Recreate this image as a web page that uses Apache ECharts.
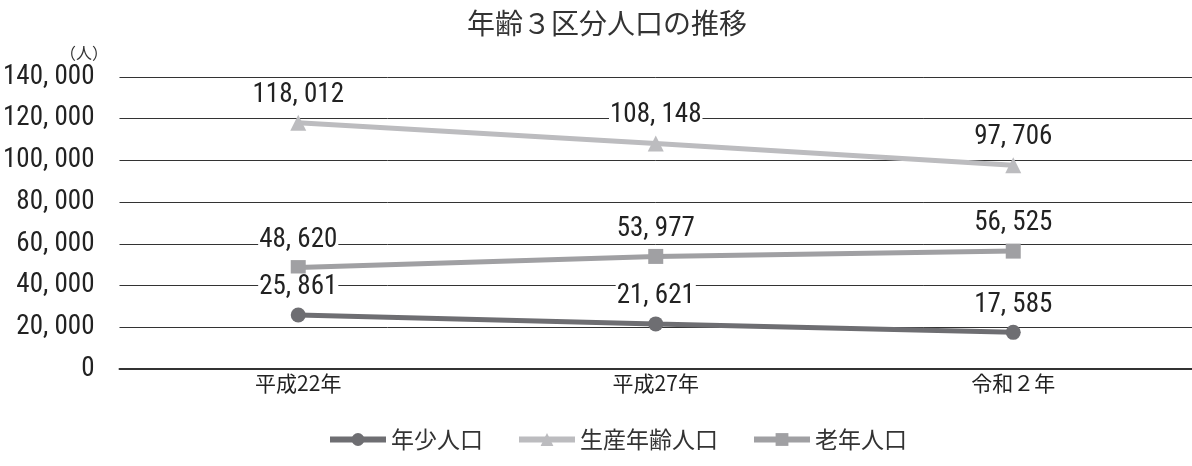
<!DOCTYPE html>
<html><head><meta charset="utf-8">
<script src="https://cdn.jsdelivr.net/npm/echarts@6/dist/echarts.min.js"></script>
<style>html,body{margin:0;padding:0;background:#fff}#c{width:1192px;height:466px}</style>
</head><body><div id="c"></div>
<script>
const categories = ['平成22年', '平成27年', '令和２年'];
const youth = [25861, 21621, 17585];
const working = [118012, 108148, 97706];
const elderly = [48620, 53977, 56525];
const yTicks = [0, 20000, 40000, 60000, 80000, 100000, 120000, 140000];

const numFont = '"Roboto Condensed", "Noto Sans", sans-serif';
const cjk = '"Noto Sans CJK JP", sans-serif';
function fmt(v){ return v.toLocaleString('en-US').replace(/,/g, ', '); }
function lbl(){
  return {show:true, position:'top', distance:6, formatter:p=>fmt(p.value),
    fontFamily:numFont, fontSize:27, color:'#222', backgroundColor:'#fff', padding:[0,1], lineHeight:28};
}
const chart = echarts.init(document.getElementById('c'));
chart.setOption({
  animation:false,
  title:{text:'年齢３区分人口の推移', left:462, top:4, textStyle:{fontFamily:cjk, fontSize:28, fontWeight:'normal', color:'#333'}},
  graphic:[{type:'text', left:60, top:45, style:{text:'（人）', fontFamily:cjk, fontSize:16, fill:'#333'}}],
  legend:{left:322, bottom:10, itemWidth:56, itemHeight:16, itemGap:33,
    lineStyle:{width:6},
    textStyle:{fontFamily:cjk, fontSize:23, color:'#333'},
    data:['年少人口','生産年齢人口','老年人口']},
  grid:{left:115, right:0, top:77, bottom:97},
  xAxis:{type:'category', data:categories, axisTick:{show:false},
    axisLine:{lineStyle:{color:'#333', width:2}},
    axisLabel:{fontFamily:cjk, fontSize:21, color:'#222', margin:4}},
  yAxis:{type:'value', min:0, max:140000, interval:20000,
    axisLabel:{fontFamily:numFont, fontSize:27, color:'#222', margin:25, formatter:v=>yTicks.includes(v)?fmt(v):''},
    splitLine:{lineStyle:{color:'#333', width:1}}},
  series:[
    {name:'年少人口', type:'line', data:youth, symbol:'circle', symbolSize:15,
      itemStyle:{color:'#6e6e72'}, lineStyle:{width:5, color:'#6e6e72'}, label:lbl(), z:5},
    {name:'生産年齢人口', type:'line', data:working, symbol:'triangle', symbolSize:16,
      itemStyle:{color:'#bcbcbf'}, lineStyle:{width:5, color:'#bcbcbf'}, label:lbl(), z:3},
    {name:'老年人口', type:'line', data:elderly, symbol:'rect', symbolSize:15,
      itemStyle:{color:'#a0a0a3'}, lineStyle:{width:5, color:'#a0a0a3'}, label:lbl(), z:4}
  ]
});
</script></body></html>
